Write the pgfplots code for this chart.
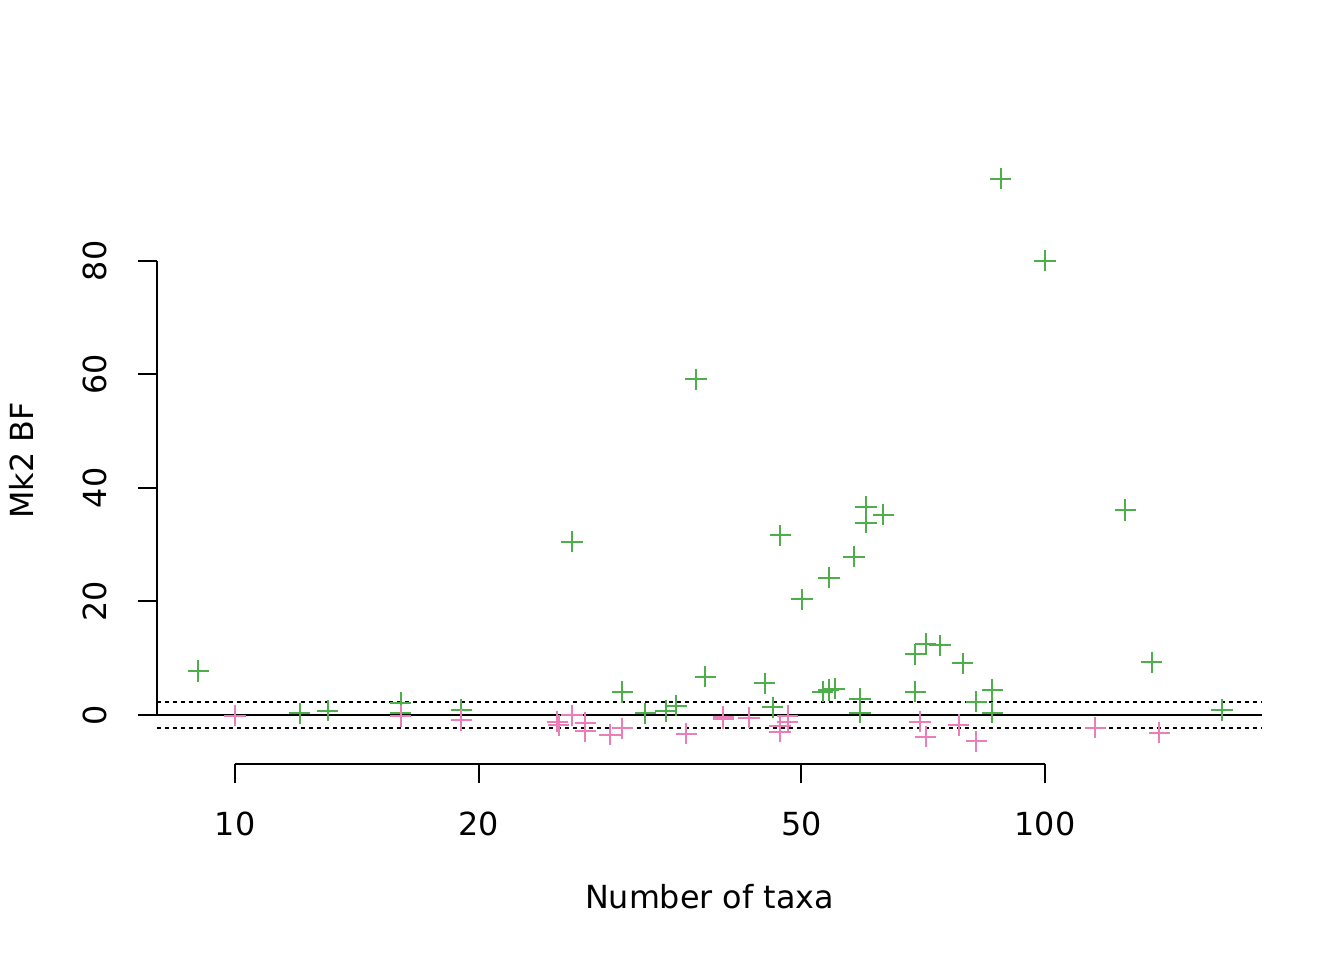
\documentclass[border=0pt]{standalone}
\usepackage{fontspec}
\setmainfont{DejaVu Sans}
\usepackage{pgfplots}
\pgfplotsset{compat=1.18}
\definecolor{bfgreen}{HTML}{4DAF4A}
\definecolor{bfpink}{HTML}{EB7EB6}

\begin{document}
\fontsize{15.9}{19}\selectfont
\begin{tikzpicture}
% whole page: 1344 x 960 px at 0.5pt per px, plot region lower-left at (0,0)
\path[use as bounding box] (-78.5pt,-98pt) rectangle (593.5pt,382pt);
\begin{axis}[
    name=ax,
    at={(0,0)}, anchor=south west,
    width=552.5pt, height=303.5pt, scale only axis,
    xmode=log,
    xmin=8.01, xmax=185.3,
    ymin=-8.63, ymax=98.3,
    clip=false,
    axis line style={draw=none},
    tick pos=left,
    tick align=outside,
    major tick length=9.5pt,
    tick style={black, line width=1pt},
    xtick={10,20,50,100},
    xticklabels={10,20,50,100},
    minor xtick={},
    ytick={0,20,40,60,80},
    /pgf/number format/assume math mode=true,
    xticklabel style={anchor=north, yshift=-9pt},
    yticklabel style={rotate=90, anchor=south, yshift=10pt},
]
% reference lines
\draw[black, line width=1pt] (axis cs:8.01,0) -- (axis cs:185.3,0);
\draw[black, line width=1pt, dash pattern=on 2pt off 2pt] (axis cs:8.01,2.3) -- (axis cs:185.3,2.3);
\draw[black, line width=1pt, dash pattern=on 2pt off 2pt] (axis cs:8.01,-2.3) -- (axis cs:185.3,-2.3);
% axis lines (R style, from first to last tick)
\draw[black, line width=1pt] (axis cs:10,-8.63) -- (axis cs:100,-8.63);
\draw[black, line width=1pt] (axis cs:8.01,0) -- (axis cs:8.01,80);

% positive BF
\addplot[only marks, mark=+, mark size=5.3pt, bfgreen, mark options={line width=1pt}]
coordinates {
(9.01,7.75) (12.02,0.3) (13.01,0.76) (16.02,2.1) (16.02,0.4) (19.03,0.9)
(26.06,30.5) (30.05,4.05) (32.08,0.3) (34.05,0.7) (35.03,1.65) (37.08,59.15)
(38.07,6.75) (45.08,5.6) (46.12,1.35) (47.1,31.66) (50.1,20.4) (53.15,4.1)
(54.1,24.2) (54.08,4.4) (55.0,4.65) (58.1,27.9) (59.1,2.9) (59.1,0.4)
(60.1,36.7) (60.1,33.9) (63.15,35.3) (69.16,10.7) (69.16,4.1) (71.2,12.5)
(74.2,12.3) (79.13,9.1) (82.2,2.35) (86.1,4.4) (86.1,0.4) (88.2,94.45)
(100.0,80.0) (125.6,36.1) (135.4,9.3) (165.4,0.9)
};
% negative BF
\addplot[only marks, mark=+, mark size=5.3pt, bfpink, mark options={line width=1pt}]
coordinates {
(10.0,-0.1) (16.02,-0.18) (19.03,-0.88) (25.0,-1.2) (25.1,-1.8) (26.06,-0.05)
(27.05,-1.35) (27.05,-2.8) (29.04,-3.5) (30.05,-2.35) (36.05,-3.3) (40.08,-0.35)
(40.08,-0.65) (43.11,-0.47) (47.08,-1.94) (47.08,-2.93) (48.1,-0.1) (48.1,-1.17)
(70.1,-1.17) (71.2,-3.8) (78.2,-1.76) (82.2,-4.65) (115.3,-2.25) (138.4,-3.15)
};
\end{axis}
\node[anchor=base] at ([yshift=-72pt]ax.south) {Number of taxa};
\node[rotate=90, anchor=base] at ([xshift=-61.5pt]ax.west) {Mk2 BF};
\end{tikzpicture}
\end{document}
